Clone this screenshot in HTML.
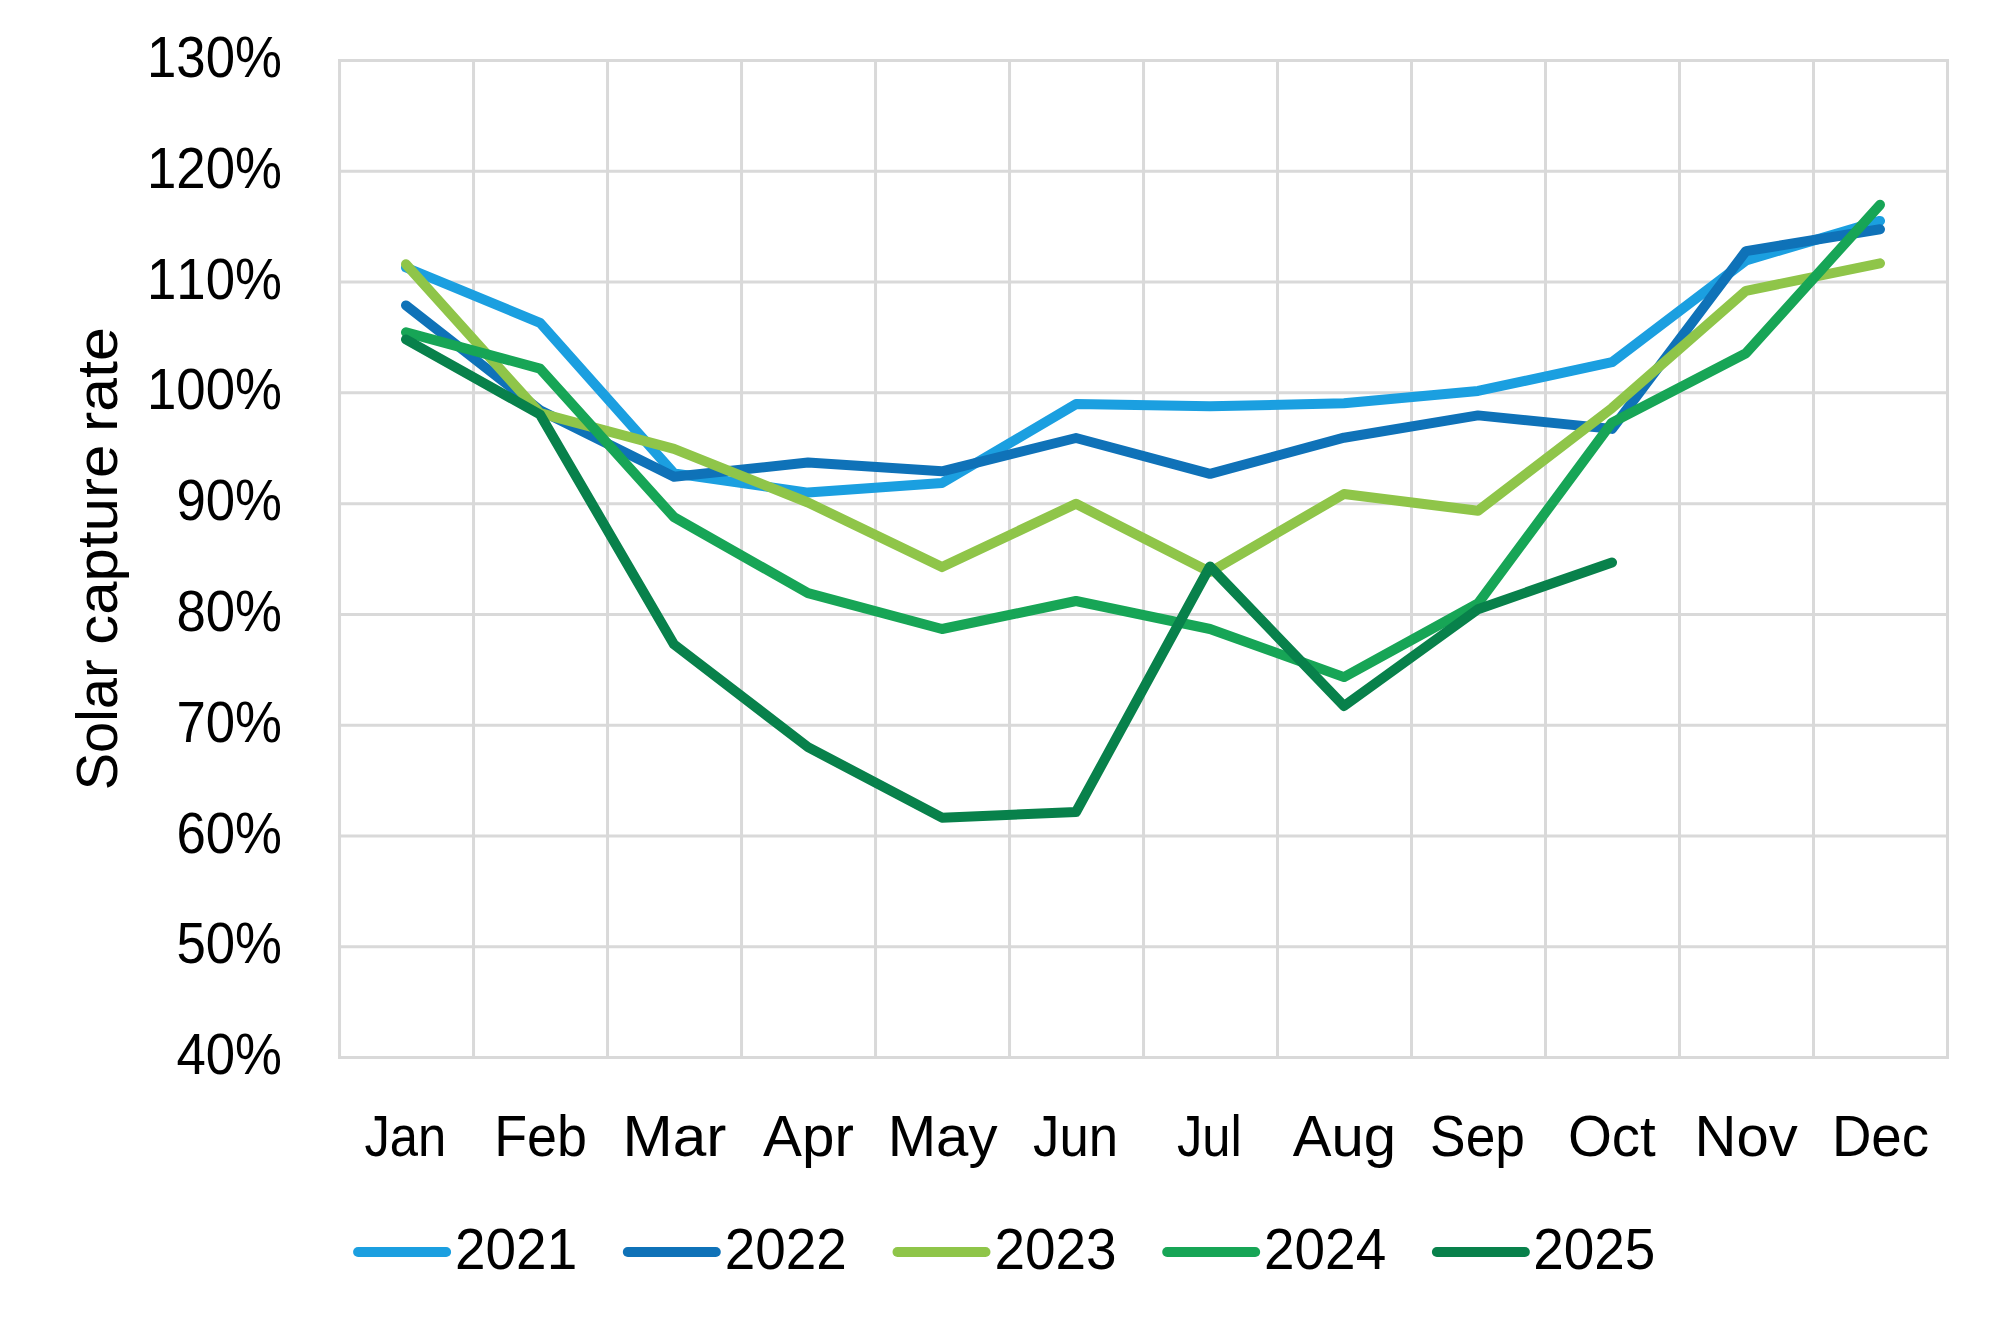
<!DOCTYPE html>
<html lang="en"><head><meta charset="utf-8"><title>Solar capture rate</title>
<style>html,body{margin:0;padding:0;background:#fff}svg{display:block}text{font-family:"Liberation Sans",sans-serif;font-size:57.8px;font-kerning:none;fill:#000}</style></head><body>
<svg width="1998" height="1330" viewBox="0 0 1998 1330">
<rect width="1998" height="1330" fill="#fff"/>
<g stroke="#d9d9d9" stroke-width="3" fill="none" stroke-linecap="square">
<line x1="339.55" y1="60.45" x2="1947.50" y2="60.45"/>
<line x1="339.55" y1="171.24" x2="1947.50" y2="171.24"/>
<line x1="339.55" y1="282.04" x2="1947.50" y2="282.04"/>
<line x1="339.55" y1="392.83" x2="1947.50" y2="392.83"/>
<line x1="339.55" y1="503.63" x2="1947.50" y2="503.63"/>
<line x1="339.55" y1="614.42" x2="1947.50" y2="614.42"/>
<line x1="339.55" y1="725.22" x2="1947.50" y2="725.22"/>
<line x1="339.55" y1="836.01" x2="1947.50" y2="836.01"/>
<line x1="339.55" y1="946.81" x2="1947.50" y2="946.81"/>
<line x1="339.55" y1="1057.60" x2="1947.50" y2="1057.60"/>
<line x1="339.55" y1="60.45" x2="339.55" y2="1057.60"/>
<line x1="473.55" y1="60.45" x2="473.55" y2="1057.60"/>
<line x1="607.54" y1="60.45" x2="607.54" y2="1057.60"/>
<line x1="741.54" y1="60.45" x2="741.54" y2="1057.60"/>
<line x1="875.53" y1="60.45" x2="875.53" y2="1057.60"/>
<line x1="1009.53" y1="60.45" x2="1009.53" y2="1057.60"/>
<line x1="1143.53" y1="60.45" x2="1143.53" y2="1057.60"/>
<line x1="1277.52" y1="60.45" x2="1277.52" y2="1057.60"/>
<line x1="1411.52" y1="60.45" x2="1411.52" y2="1057.60"/>
<line x1="1545.51" y1="60.45" x2="1545.51" y2="1057.60"/>
<line x1="1679.51" y1="60.45" x2="1679.51" y2="1057.60"/>
<line x1="1813.50" y1="60.45" x2="1813.50" y2="1057.60"/>
<line x1="1947.50" y1="60.45" x2="1947.50" y2="1057.60"/>
</g>
<g fill="none" stroke-width="10" stroke-linecap="round" stroke-linejoin="round">
<polyline stroke="#1b9fe0" points="406.0,267.5 540.0,322.8 674.0,473.4 808.0,492.6 942.0,483.0 1076.0,404.1 1210.0,406.3 1344.0,403.3 1478.0,390.9 1612.0,362.2 1746.0,260.4 1880.0,220.9"/>
<polyline stroke="#0f72b8" points="406.0,305.4 540.0,410.2 674.0,476.8 808.0,462.5 942.0,471.3 1076.0,438.0 1210.0,473.8 1344.0,437.7 1478.0,415.4 1612.0,428.9 1746.0,251.1 1880.0,229.3"/>
<polyline stroke="#8fc549" points="406.0,264.3 540.0,413.2 674.0,448.8 808.0,502.5 942.0,567.1 1076.0,503.8 1210.0,572.0 1344.0,494.0 1478.0,510.8 1612.0,408.1 1746.0,290.8 1880.0,263.3"/>
<polyline stroke="#17a556" points="406.0,332.3 540.0,368.6 674.0,517.2 808.0,593.2 942.0,629.0 1076.0,601.0 1210.0,629.0 1344.0,677.1 1478.0,603.5 1612.0,422.6 1746.0,353.2 1880.0,204.8"/>
<polyline stroke="#08814b" points="406.0,339.5 540.0,414.5 674.0,644.4 808.0,747.1 942.0,817.7 1076.0,812.0 1210.0,566.5 1344.0,706.0 1478.0,609.2 1612.0,562.5"/>
</g>
<text transform="translate(147.00,76.95) scale(0.9130,1)">130%</text>
<text transform="translate(147.00,187.74) scale(0.9130,1)">120%</text>
<text transform="translate(147.00,298.54) scale(0.9130,1)">110%</text>
<text transform="translate(147.00,409.33) scale(0.9130,1)">100%</text>
<text transform="translate(176.44,520.13) scale(0.9130,1)">90%</text>
<text transform="translate(176.44,630.92) scale(0.9130,1)">80%</text>
<text transform="translate(176.44,741.72) scale(0.9130,1)">70%</text>
<text transform="translate(176.44,852.51) scale(0.9130,1)">60%</text>
<text transform="translate(176.44,963.31) scale(0.9130,1)">50%</text>
<text transform="translate(176.44,1074.10) scale(0.9130,1)">40%</text>
<text transform="translate(364.44,1155.60) scale(0.8789,1)">Jan</text>
<text transform="translate(494.19,1155.60) scale(0.9313,1)">Feb</text>
<text transform="translate(622.45,1155.60) scale(1.0439,1)">Mar</text>
<text transform="translate(763.06,1155.60) scale(1.0094,1)">Apr</text>
<text transform="translate(887.63,1155.60) scale(1.0068,1)">May</text>
<text transform="translate(1033.10,1155.60) scale(0.9129,1)">Jun</text>
<text transform="translate(1176.94,1155.60) scale(0.8786,1)">Jul</text>
<text transform="translate(1292.67,1155.60) scale(1.0044,1)">Aug</text>
<text transform="translate(1430.12,1155.60) scale(0.9218,1)">Sep</text>
<text transform="translate(1567.90,1155.60) scale(0.9778,1)">Oct</text>
<text transform="translate(1694.54,1155.60) scale(1.0045,1)">Nov</text>
<text transform="translate(1831.92,1155.60) scale(0.9453,1)">Dec</text>
<text transform="translate(116.60,790.33) rotate(-90) scale(0.9711,1)">Solar</text>
<text transform="translate(116.60,644.69) rotate(-90) scale(1.0371,1)">capture</text>
<text transform="translate(116.60,432.12) rotate(-90) scale(1.0538,1)">rate</text>
<g stroke-width="10" stroke-linecap="round">
<line x1="358.1" y1="1252" x2="446.1" y2="1252" stroke="#1b9fe0"/>
<line x1="627.8" y1="1252" x2="715.8" y2="1252" stroke="#0f72b8"/>
<line x1="897.5" y1="1252" x2="985.5" y2="1252" stroke="#8fc549"/>
<line x1="1167.2" y1="1252" x2="1255.2" y2="1252" stroke="#17a556"/>
<line x1="1436.9" y1="1252" x2="1524.9" y2="1252" stroke="#08814b"/>
</g>
<text transform="translate(455.05,1269.00) scale(0.9501,1)">2021</text>
<text transform="translate(724.65,1269.00) scale(0.9501,1)">2022</text>
<text transform="translate(994.45,1269.00) scale(0.9501,1)">2023</text>
<text transform="translate(1264.05,1269.00) scale(0.9501,1)">2024</text>
<text transform="translate(1533.15,1269.00) scale(0.9501,1)">2025</text>
</svg></body></html>
